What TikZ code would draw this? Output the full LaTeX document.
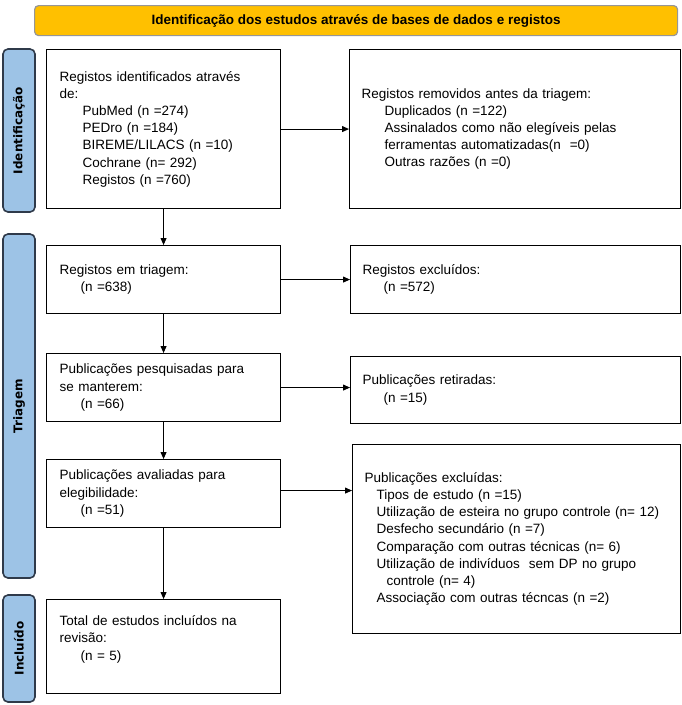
\documentclass[tikz,border=0pt]{standalone}
\usepackage{fontspec}
\setmainfont{Liberation Sans}
\newfontfamily\sidefont{DejaVu Sans Bold}
\usetikzlibrary{arrows.meta}
\definecolor{gold}{RGB}{255,192,0}
\definecolor{goldedge}{RGB}{150,150,150}
\definecolor{sidefill}{RGB}{157,195,230}
\definecolor{sideedge}{RGB}{47,58,74}
\begin{document}
\begin{tikzpicture}[x=1pt,y=-1pt,
  box/.style={draw, line width=1.1pt, align=left, anchor=north west, inner xsep=13pt, inner ysep=0pt, font=\fontsize{13.5}{17.2}\selectfont},
  side/.style={draw=sideedge, fill=sidefill, line width=1.6pt, rounded corners=5pt, rotate=90, minimum height=32pt, inner sep=0pt, font=\sidefont\fontsize{12}{14}\selectfont},
  arr/.style={-{Triangle[length=7pt,width=6pt]}, line width=0.9pt}]
\useasboundingbox (0,0) rectangle (681,705);

% title banner
\node[draw=goldedge, fill=gold, line width=1.2pt, rounded corners=4pt, anchor=north west,
  minimum width=643pt, minimum height=30pt, inner sep=0pt,
  font=\fontsize{13.5}{15}\selectfont\bfseries] (title) at (34,5)
  {Identificação dos estudos através de bases de dados e registos};

% side bars
\node[side, minimum width=163pt] (sid) at (19,130.5) {Identificação};
\node[side, minimum width=344pt] (stri) at (19,406) {Triagem};
\node[side, minimum width=107pt] (sinc) at (19,648.5) {Incluído};

% left column
\node[box, text width=208pt, minimum height=159pt] (b1) at (46,49)
  {Registos identificados através\\de:\\
   \hspace*{23pt}PubMed (n =274)\\
   \hspace*{23pt}PEDro (n =184)\\
   \hspace*{23pt}BIREME/LILACS (n =10)\\
   \hspace*{23pt}Cochrane (n= 292)\\
   \hspace*{23pt}Registos (n =760)};
\node[box, text width=208pt, minimum height=68pt] (b2) at (46,245)
  {Registos em triagem:\\\hspace*{21pt}(n =638)};
\node[box, text width=208pt, minimum height=68pt] (b3) at (46,353)
  {Publicações pesquisadas para\\se manterem:\\\hspace*{21pt}(n =66)};
\node[box, text width=208pt, minimum height=68pt] (b4) at (46,459)
  {Publicações avaliadas para\\elegibilidade:\\\hspace*{21pt}(n =51)};
\node[box, text width=208pt, minimum height=94pt] (b5) at (46,599)
  {Total de estudos incluídos na\\revisão:\\\hspace*{21pt}(n = 5)\\\mbox{}};

% right column
\node[box, inner xsep=12pt, text width=307pt, minimum height=159pt] (r1) at (349,49)
  {Registos removidos antes da triagem:\\
   \hspace*{23pt}Duplicados (n =122)\\
   \hspace*{23pt}Assinalados como não elegíveis pelas\\
   \hspace*{23pt}ferramentas automatizadas(n\ \ =0)\\
   \hspace*{23pt}Outras razões (n =0)};
\node[box, inner xsep=12pt, text width=306pt, minimum height=68pt] (r2) at (350,245)
  {Registos excluídos:\\\hspace*{21pt}(n =572)};
\node[box, inner xsep=12pt, text width=306pt, minimum height=67pt] (r3) at (350,356)
  {Publicações retiradas:\\\hspace*{21pt}(n =15)};
\node[box, inner xsep=12pt, text width=304pt, minimum height=189pt] (r4) at (352,444)
  {Publicações excluídas:\\
   \hspace*{12pt}Tipos de estudo (n =15)\\
   \hspace*{12pt}Utilização de esteira no grupo controle (n= 12)\\
   \hspace*{12pt}Desfecho secundário (n =7)\\
   \hspace*{12pt}Comparação com outras técnicas (n= 6)\\
   \hspace*{12pt}Utilização de indivíduos\ \ sem DP no grupo\\
   \hspace*{22pt}controle (n= 4)\\
   \hspace*{12pt}Associação com outras técncas (n =2)};

% arrows
\draw[arr] (b1.south) -- (b2.north);
\draw[arr] (b2.south) -- (b3.north);
\draw[arr] (b3.south) -- (b4.north);
\draw[arr] (b4.south) -- (b5.north);
\draw[arr] (b1.east) -- (b1.east -| r1.west);
\draw[arr] (b2.east) -- (b2.east -| r2.west);
\draw[arr] (b3.east) -- (b3.east -| r3.west);
\draw[arr] ([yshift=3pt]b4.east) -- ([yshift=3pt]b4.east -| r4.west);
\end{tikzpicture}
\end{document}
